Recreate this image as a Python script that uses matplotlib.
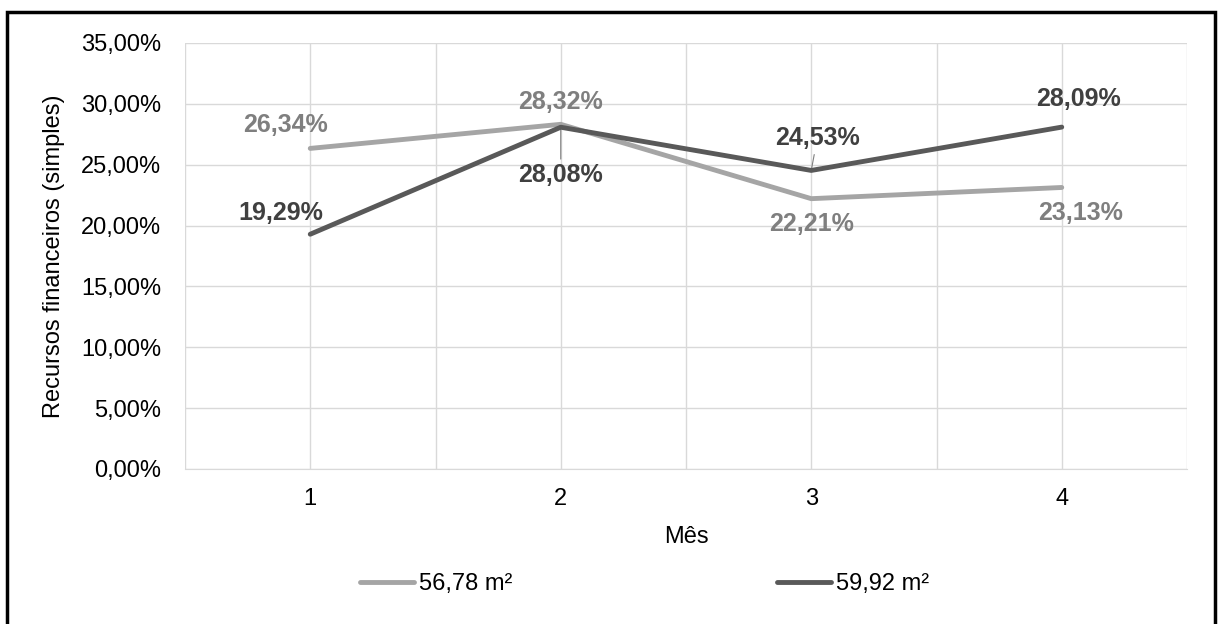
import matplotlib.pyplot as plt
from matplotlib.patches import Rectangle
from matplotlib.ticker import FuncFormatter, MultipleLocator

plt.rcParams['font.family'] = ['Liberation Sans', 'DejaVu Sans']

# data
meses = [1, 2, 3, 4]
serie_a = [26.34, 28.32, 22.21, 23.13]   # 56,78 m²
serie_b = [19.29, 28.08, 24.53, 28.09]   # 59,92 m²
nomes = ['56,78 m²', '59,92 m²']

cor_a = '#A5A5A5'
cor_b = '#595959'
cor_lab_a = '#7F7F7F'
cor_lab_b = '#404040'

fig = plt.figure(figsize=(12.19, 6.24), dpi=100)
ax = fig.add_axes([185 / 1219, 1 - 469 / 624, 1002 / 1219, 426 / 624])

la, = ax.plot(meses, serie_a, color=cor_a, lw=3.5, solid_capstyle='round', zorder=3)
lb, = ax.plot(meses, serie_b, color=cor_b, lw=3.5, solid_capstyle='round', zorder=4)

ax.set_xlim(0.5, 4.5)
ax.set_ylim(0, 35)
ax.yaxis.set_major_locator(MultipleLocator(5))
ax.yaxis.set_major_formatter(FuncFormatter(lambda v, p: f'{v:.2f}%'.replace('.', ',')))
ax.set_xticks(meses)
ax.set_xticks([0.5, 1.5, 2.5, 3.5, 4.5], minor=True)
ax.grid(True, axis='y', color='#D9D9D9', lw=1)
ax.grid(True, axis='x', which='minor', color='#D9D9D9', lw=1)
ax.grid(True, axis='x', which='major', color='#D9D9D9', lw=1)
ax.tick_params(which='both', length=0, labelsize=17, colors='#000000')
ax.tick_params(axis='x', pad=14)
ax.tick_params(axis='y', pad=17)
for s in ['top', 'left', 'right']:
    ax.spines[s].set_visible(False)
ax.spines['bottom'].set_color('#D9D9D9')
ax.set_axisbelow(True)

ax.set_ylabel('Recursos financeiros (simples)', fontsize=17, labelpad=12)
ax.set_xlabel('Mês', fontsize=17, labelpad=11)

def fmt(v):
    return f'{v:.2f}%'.replace('.', ',')

# label offsets in pixels (dx, dy)
off_a = [(-25, 23), (0, 22), (0, -25), (19, -26)]
off_b = [(-29, 21), (0, -48), (6, 32), (17, 28)]
for x, v, o in zip(meses, serie_a, off_a):
    ax.annotate(fmt(v), (x, v), xytext=o, textcoords='offset pixels',
                ha='center', va='center', fontsize=18, fontweight='bold', color=cor_lab_a)
for i, (x, v, o) in enumerate(zip(meses, serie_b, off_b)):
    arrow = None
    if i in (1, 2):
        arrow = dict(arrowstyle='-', color='#7F7F7F', lw=0.8, shrinkA=1, shrinkB=1)
    ax.annotate(fmt(v), (x, v), xytext=o, textcoords='offset pixels',
                ha='center', va='center', fontsize=18, fontweight='bold', color=cor_lab_b,
                arrowprops=arrow)

fig.legend([la, lb], nomes, loc='center left', bbox_to_anchor=(360 / 1219, 1 - 584 / 624),
           ncol=2, frameon=False, fontsize=17, handlelength=2.3, handletextpad=0.2,
           columnspacing=11.2, borderpad=0, borderaxespad=0)

# outer chart frame
fig.patches.append(Rectangle((7 / 1219, -0.05), 1208 / 1219, 1.05 - 12 / 624,
                             transform=fig.transFigure, fill=False, edgecolor='black', lw=2.5))

fig.savefig('out.png', dpi=100)
